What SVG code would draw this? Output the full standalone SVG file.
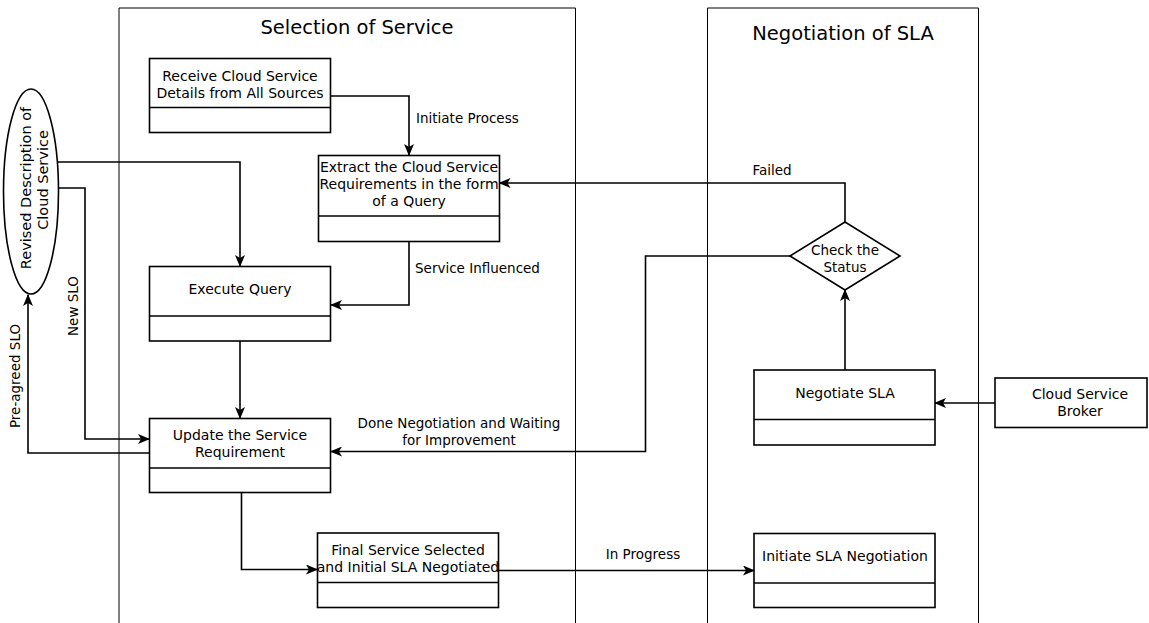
<svg xmlns="http://www.w3.org/2000/svg" width="1149" height="623" viewBox="0 0 1149 623">
<defs>
<marker id="ah2" viewBox="0 0 12 10" refX="11" refY="5" markerWidth="12" markerHeight="10" markerUnits="userSpaceOnUse" orient="auto">
<path d="M0,0 L12,5 L0,10 L3,5 Z" fill="#000"/>
</marker>
<style>
text{font-family:"DejaVu Sans","Liberation Sans",sans-serif;font-size:14px;fill:#000}
.t{font-size:19.5px}
.l{font-size:13.5px}
.e{font-size:14.5px}
.c{text-anchor:middle}
.lane{fill:none;stroke:#000;stroke-width:1}
.box{fill:#fff;stroke:#000;stroke-width:1.6}
.cn{fill:none;stroke:#000;stroke-width:1.6;marker-end:url(#ah2)}
.cl{fill:none;stroke:#000;stroke-width:1.6}
</style>
</defs>
<rect width="1149" height="623" fill="#fff"/>
<g id="lanes">
<path class="lane" d="M119,623 V8 H575.5 V623"/>
<text class="t c" x="357" y="34">Selection of Service</text>
<path class="lane" d="M707.5,623 V8 H978.5 V623"/>
<text class="t c" x="843" y="40">Negotiation of SLA</text>
</g>
<g id="connectors">
<path class="cn" d="M331,96 H409 V155"/>
<text class="l" x="416" y="123">Initiate Process</text>
<path class="cn" d="M409,241 V305 H331"/>
<text class="l" x="415" y="273">Service Influenced</text>
<path class="cn" d="M58,162 H240 V266"/>
<path class="cn" d="M58,188 H85 V439 H149"/>
<text transform="translate(78,306) rotate(-90)" class="l c">New SLO</text>
<path class="cn" d="M149,453 H28 V295"/>
<text transform="translate(20,376) rotate(-90)" class="l c">Pre-agreed SLO</text>
<path class="cn" d="M240,341 V418"/>
<path class="cn" d="M241.5,492 V569.5 H317"/>
<path class="cn" d="M498,570.5 H754"/>
<text class="l c" x="643" y="559">In Progress</text>
<path class="cn" d="M995,403 H935"/>
<path class="cn" d="M845,370 V290"/>
<path class="cn" d="M845,222 V183 H499.5"/>
<text class="l c" x="772" y="175">Failed</text>
<path class="cn" d="M790,256 H645.5 V451.5 H331"/>
<text class="l c" x="459" y="428">Done Negotiation and Waiting</text>
<text class="l c" x="459" y="445">for Improvement</text>
</g>
<g id="ellipse-revised">
<ellipse class="box" cx="31" cy="191.5" rx="27.5" ry="102.5" stroke-width="1.3"/>
<text transform="translate(31,188) rotate(-90)" class="e c">Revised Description of</text>
<text transform="translate(48,180) rotate(-90)" class="e c">Cloud Service</text>
</g>
<g id="receive">
<rect class="box" x="149.5" y="58.5" width="181" height="74"/>
<line class="cl" x1="149.5" y1="107.5" x2="330.5" y2="107.5"/>
<text class="c" x="240" y="81">Receive Cloud Service</text>
<text class="c" x="240" y="98">Details from All Sources</text>
</g>
<g id="extract">
<rect class="box" x="318.5" y="155.5" width="181" height="86"/>
<line class="cl" x1="318.5" y1="216" x2="499.5" y2="216"/>
<text class="c" x="409" y="172">Extract the Cloud Service</text>
<text class="c" x="409" y="189">Requirements in the form</text>
<text class="c" x="409" y="206">of a Query</text>
</g>
<g id="execute">
<rect class="box" x="149.5" y="266.5" width="181" height="74.5"/>
<line class="cl" x1="149.5" y1="316" x2="330.5" y2="316"/>
<text class="c" x="240" y="294">Execute Query</text>
</g>
<g id="update">
<rect class="box" x="149.5" y="418.5" width="181" height="74"/>
<line class="cl" x1="149.5" y1="468" x2="330.5" y2="468"/>
<text class="c" x="240" y="440">Update the Service</text>
<text class="c" x="240" y="457">Requirement</text>
</g>
<g id="final">
<rect class="box" x="317.5" y="533" width="181" height="74.5"/>
<line class="cl" x1="317.5" y1="582.5" x2="498.5" y2="582.5"/>
<text class="c" x="408" y="555">Final Service Selected</text>
<text class="c" x="408" y="572">and Initial SLA Negotiated</text>
</g>
<g id="check-status">
<path class="box" d="M845,222 L900,256 L845,290 L790,256 Z"/>
<text class="l c" x="845" y="255">Check the</text>
<text class="l c" x="845" y="272">Status</text>
</g>
<g id="negotiate">
<rect class="box" x="754" y="370" width="181" height="75"/>
<line class="cl" x1="754" y1="419.5" x2="935" y2="419.5"/>
<text class="c" x="845" y="398">Negotiate SLA</text>
</g>
<g id="broker">
<rect class="box" x="995" y="378" width="152" height="49.5"/>
<text class="c" x="1080" y="399">Cloud Service</text>
<text class="c" x="1080" y="416">Broker</text>
</g>
<g id="initiate">
<rect class="box" x="754" y="533.5" width="181" height="74"/>
<line class="cl" x1="754" y1="583" x2="935" y2="583"/>
<text class="c" x="845" y="561">Initiate SLA Negotiation</text>
</g>
</svg>
